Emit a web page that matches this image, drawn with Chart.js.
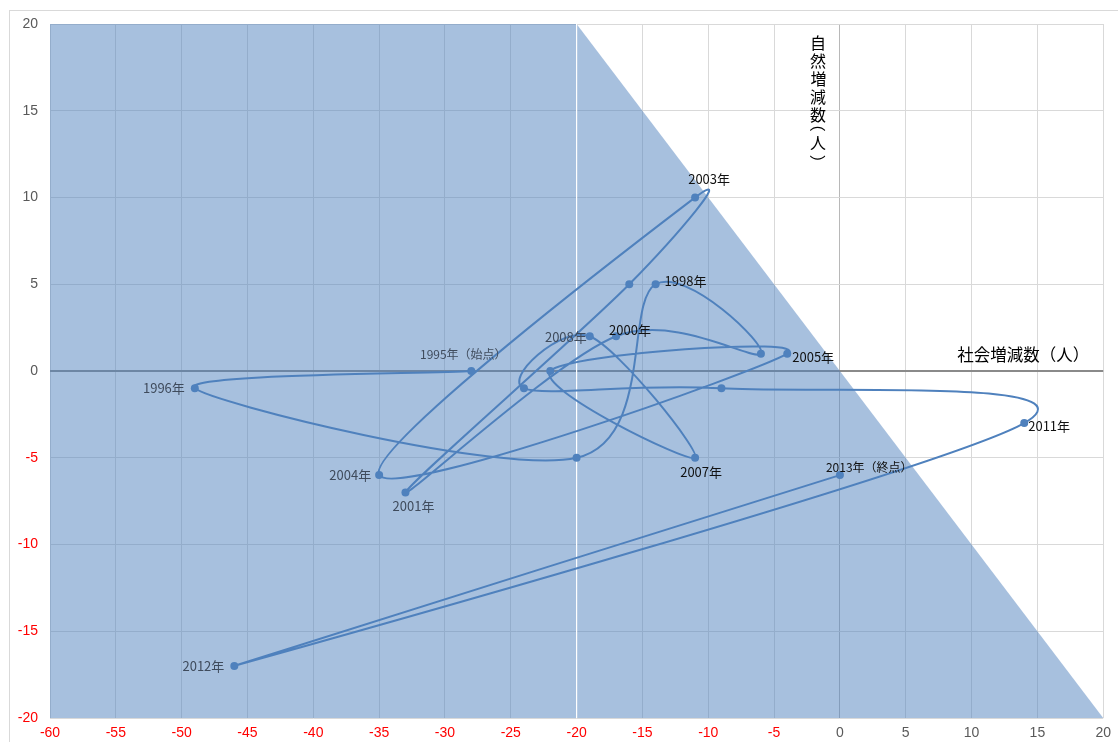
<!DOCTYPE html>
<html lang="ja">
<head>
<meta charset="utf-8">
<title>社会増減数と自然増減数の推移</title>
<script src="https://cdn.jsdelivr.net/npm/chart.js@4/dist/chart.umd.min.js"></script>
<style>
  html, body { margin: 0; padding: 0; background: #ffffff; }
  #wrap { position: relative; width: 1118px; height: 742px; }
</style>
</head>
<body>
<div id="wrap"><canvas id="chart" width="1118" height="742"></canvas></div>
<script>
// Years of the series (1995 start, 2013 end)
const years = [1995, 1996, 1997, 1998, 1999, 2000, 2001, 2002, 2003, 2004,
               2005, 2006, 2007, 2008, 2009, 2010, 2011, 2012, 2013];
// 社会増減数 (x) and 自然増減数 (y), persons
const socialChange  = [-28, -49, -20, -14, -6, -17, -33, -16, -11, -35,
                       -4, -22, -11, -19, -24, -9, 14, -46, 0];
const naturalChange = [0, -1, -5, 5, 1, 2, -7, 5, 10, -6,
                       1, 0, -5, 2, -1, -1, -3, -17, -6];
// Point labels (empty = unlabeled)
const pointLabels = ['1995年（始点）', '1996年', '', '1998年', '', '2000年', '2001年', '', '2003年', '2004年',
                     '2005年', '', '2007年', '2008年', '', '', '2011年', '2012年', '2013年（終点）'];
// Shaded region: total change (x + y) below zero
const shadeX = [-60, -20, 20];
const shadeY = [20, 20, -20];
// Axis ranges and titles
const xRange = [-60, 20];
const yRange = [-20, 20];
const tickStep = 5;
const xTitle = '社会増減数（人）';
const yTitle = ['自', '然', '増', '減', '数', '（', '人', '）'];

// Label placement: [align, dx, dy, font size, color]
const labelStyle = {
  '1995年（始点）': ['center', -8, -17, 12, '#3f4b5c'],
  '1996年': ['right', -10, 0, 13, '#3f4b5c'],
  '1998年': ['left', 9, -3, 13, '#111111'],
  '2000年': ['left', -7, -6, 13, '#111111'],
  '2001年': ['center', 8, 14, 13, '#3f4b5c'],
  '2003年': ['center', 14, -18, 13, '#111111'],
  '2004年': ['right', -8, 0, 13, '#3f4b5c'],
  '2005年': ['left', 5, 3, 13, '#111111'],
  '2007年': ['center', 6, 14, 13, '#111111'],
  '2008年': ['right', -3, 1, 13, '#3f4b5c'],
  '2011年': ['left', 4, 3, 13, '#111111'],
  '2012年': ['right', -10, 0, 13, '#3f4b5c'],
  '2013年（終点）': ['left', -14, -8, 12, '#111111']
};

const seriesPoints = socialChange.map((x, i) => ({ x: x, y: naturalChange[i] }));
const shadePoints = shadeX.map((x, i) => ({ x: x, y: shadeY[i] }));
const dividerPoints = [{ x: shadeX[1], y: yRange[1] }, { x: shadeX[1], y: yRange[0] }];

const CJK = '"Noto Sans CJK JP", "Noto Sans", sans-serif';
const SMOOTH = 1 / 6; // Catmull-Rom style handle length

// Smoothed curve: set each point's bezier handles from its neighbours
const smoothCurve = {
  id: 'smoothCurve',
  beforeDatasetDraw(chart, args) {
    if (args.index !== 0) return;
    const line = args.meta.dataset;
    const pts = args.meta.data;
    pts.forEach((p, i) => {
      const prev = pts[i - 1] || p;
      const next = pts[i + 1] || p;
      const dx = (next.x - prev.x) * SMOOTH;
      const dy = (next.y - prev.y) * SMOOTH;
      p.cp1x = p.x - dx; p.cp1y = p.y - dy;
      p.cp2x = p.x + dx; p.cp2y = p.y + dy;
    });
    line._pointsUpdated = true;
    line._path = undefined;
  }
};

// Outer frame, point labels and axis titles
const decorations = {
  id: 'decorations',
  beforeDraw(chart) {
    const ctx = chart.ctx;
    ctx.save();
    ctx.fillStyle = '#ffffff';
    ctx.fillRect(0, 0, chart.width, chart.height);
    ctx.strokeStyle = '#d9d9d9';
    ctx.lineWidth = 1;
    ctx.strokeRect(9.5, 10.5, chart.width + 20, chart.height + 20);
    ctx.restore();
  },
  afterDatasetsDraw(chart) {
    const ctx = chart.ctx;
    const xs = chart.scales.x, ys = chart.scales.y;
    const meta = chart.getDatasetMeta(0);
    ctx.save();
    ctx.textBaseline = 'middle';
    pointLabels.forEach((txt, i) => {
      if (!txt) return;
      const st = labelStyle[txt];
      const pt = meta.data[i];
      ctx.font = st[3] + 'px ' + CJK;
      ctx.fillStyle = st[4];
      ctx.textAlign = st[0];
      ctx.fillText(txt, pt.x + st[1], pt.y + st[2]);
    });

    // horizontal axis title
    ctx.font = '16.5px ' + CJK;
    ctx.fillStyle = '#000000';
    ctx.textAlign = 'right';
    ctx.fillText(xTitle, chart.chartArea.right - 14, ys.getPixelForValue(0) - 16);

    // vertical axis title: stacked characters, brackets turned a quarter
    ctx.font = '16px ' + CJK;
    const cx = xs.getPixelForValue(0) - 22;
    let cy = ys.getPixelForValue(yRange[1]) + 19.3;
    let prevH = 0;
    yTitle.forEach((ch, i) => {
      const isBracket = (ch === '（' || ch === '）');
      const h = isBracket ? 10 : 18;
      if (i > 0) cy += (prevH + h) / 2;
      prevH = h;
      ctx.save();
      ctx.translate(cx, cy);
      if (isBracket) ctx.rotate(Math.PI / 2);
      ctx.textAlign = 'left';
      ctx.textBaseline = 'alphabetic';
      const m = ctx.measureText(ch);
      const ox = -(m.actualBoundingBoxRight - m.actualBoundingBoxLeft) / 2;
      const oy = (m.actualBoundingBoxAscent - m.actualBoundingBoxDescent) / 2;
      ctx.fillText(ch, ox, oy);
      ctx.restore();
    });
    ctx.restore();
  }
};

new Chart(document.getElementById('chart'), {
  type: 'scatter',
  data: {
    datasets: [
      {
        label: '推移',
        data: seriesPoints,
        showLine: true,
        tension: 0.4,
        borderColor: '#4f81bd',
        borderWidth: 2,
        pointRadius: 4,
        pointBackgroundColor: '#4f81bd',
        pointBorderColor: '#4f81bd',
        pointBorderWidth: 0,
        order: 0
      },
      {
        label: 'divider',
        type: 'line',
        data: dividerPoints,
        borderColor: '#ffffff',
        borderWidth: 1.2,
        pointRadius: 0,
        fill: false,
        order: 1
      },
      {
        label: 'shade',
        type: 'line',
        data: shadePoints,
        borderWidth: 0,
        borderColor: 'rgba(0,0,0,0)',
        backgroundColor: 'rgba(79,129,189,0.5)',
        pointRadius: 0,
        tension: 0,
        fill: 'start',
        order: 2
      }
    ]
  },
  options: {
    responsive: false,
    animation: false,
    events: [],
    layout: { padding: { top: 24, right: 13, left: 0, bottom: 0 } },
    plugins: {
      legend: { display: false },
      tooltip: { enabled: false },
      title: { display: false }
    },
    scales: {
      x: {
        type: 'linear',
        min: xRange[0],
        max: xRange[1],
        afterFit(s) { s.height = 24; },
        border: { display: false },
        grid: {
          drawTicks: false,
          color: (c) => c.tick && c.tick.value === 0 ? '#b8b8b8' : '#d9d9d9',
          lineWidth: 1
        },
        ticks: {
          stepSize: tickStep,
          padding: 7,
          maxRotation: 0,
          autoSkip: false,
          font: { family: '"Liberation Sans", Arial, sans-serif', size: 14 },
          color: (c) => c.tick && c.tick.value < 0 ? '#ff0000' : '#595959'
        }
      },
      y: {
        type: 'linear',
        min: yRange[0],
        max: yRange[1],
        afterFit(s) { s.width = 50; },
        border: { display: false },
        grid: {
          drawTicks: false,
          color: (c) => c.tick && c.tick.value === 0 ? '#8a8a8a' : '#d9d9d9',
          lineWidth: (c) => c.tick && c.tick.value === 0 ? 2 : 1
        },
        ticks: {
          stepSize: tickStep,
          padding: 12,
          autoSkip: false,
          font: { family: '"Liberation Sans", Arial, sans-serif', size: 14 },
          color: (c) => c.tick && c.tick.value < 0 ? '#ff0000' : '#595959'
        }
      }
    }
  },
  plugins: [smoothCurve, decorations]
});
</script>
</body>
</html>
